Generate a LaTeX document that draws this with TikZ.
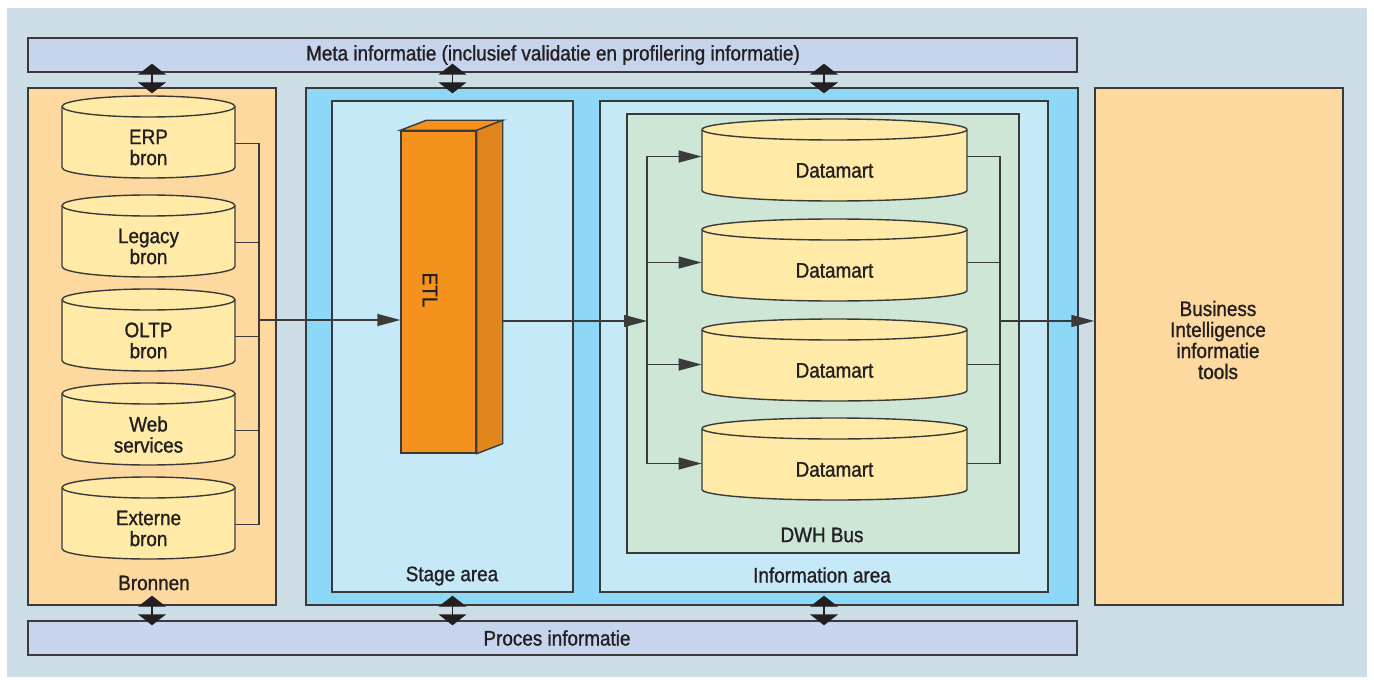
\documentclass[tikz,border=0pt]{standalone}
\usepackage{fontspec}
\setmainfont{Liberation Sans}[FakeStretch=0.9,FakeBold=1.1]
\usetikzlibrary{arrows.meta,fit}
\definecolor{panel}{HTML}{CDDDE5}
\definecolor{barblue}{HTML}{C7D4EE}
\definecolor{peach}{HTML}{FDD9A0}
\definecolor{cylyellow}{HTML}{FFEBA7}
\definecolor{deepblue}{HTML}{8ED8F7}
\definecolor{paleblue}{HTML}{C6E9F8}
\definecolor{palegreen}{HTML}{CDE6D6}
\definecolor{etlfront}{HTML}{F5921E}
\definecolor{etlside}{HTML}{E0861C}
\definecolor{linegray}{HTML}{3A3A3A}
\definecolor{inkgray}{HTML}{231F20}

% database cylinder: name, left, top, width, text (height 82)
\newcommand{\dbcyl}[5]{%
  \draw[cyl] (#2,#3+10.5) -- (#2,#3+71.5)
    arc[start angle=180,end angle=360,x radius=#4*0.25pt,y radius=5.25pt]
    -- (#2+#4,#3+10.5)
    arc[start angle=0,end angle=180,x radius=#4*0.25pt,y radius=5.25pt] -- cycle;
  \draw[cyl] (#2,#3+10.5) arc[start angle=180,end angle=360,x radius=#4*0.25pt,y radius=5.25pt];
  \node[cyltext, minimum width=#4*0.5pt] (#1) at (#2+#4/2,#3+51.5) {#5};
}

\begin{document}
\begin{tikzpicture}[x=0.5pt,y=-0.5pt,font=\fontsize{10.5}{10.5}\selectfont,text=inkgray,
  box/.style={draw=linegray,line width=0.7pt,inner sep=0pt},
  cyl/.style={draw=linegray,fill=cylyellow,line width=0.7pt},
  cyltext/.style={align=center,inner sep=0pt},
  link/.style={draw=linegray,line width=0.7pt},
  flow/.style={link,-{Triangle[length=11.5pt,width=6pt]}},
  bothway/.style={draw=inkgray,line width=0.7pt,>={Triangle[length=5.5pt,width=14pt]},<->}]
\useasboundingbox (0,0) rectangle (1374,679);
%\draw[gray,very thin] (0,0) grid[step=50] (1374,679);
\fill[panel] (7,8) rectangle (1367,677);

\node[box,fill=barblue,fit={(28,38) (1077,72)}] (meta) {};
\node[box,fill=barblue,fit={(28,621) (1077,655)}] (proces) {};
\node[box,fill=peach,fit={(28,88) (276,605)}] (bronnen) {};
\node[box,fill=deepblue,fit={(306,88) (1078,605)}] (outer) {};
\node[box,fill=paleblue,fit={(332,101) (573,592)}] (stage) {};
\node[box,fill=paleblue,fit={(600,101) (1048,592)}] (info) {};
\node[box,fill=palegreen,fit={(627,114) (1019,553)}] (dwh) {};
\node[box,fill=peach,fit={(1095,88) (1343,605)}] (bi) {};

\node (metalabel) at (553,55) {Meta informatie (inclusief validatie en profilering informatie)};
\node (proceslabel) at (557,638) {Proces informatie};
\node[align=center] (bilabel) at (1218,340) {Business\\Intelligence\\informatie\\tools};
\node (bronlabel) at (154,583) {Bronnen};
\node (stagelabel) at (452,576) {Stage area};
\node (infolabel) at (822,575) {Information area};
\node (dwhlabel) at (822,535) {DWH Bus};

\dbcyl{erp}{62}{96}{173}{ERP\\bron}
\dbcyl{legacy}{62}{195}{173}{Legacy\\bron}
\dbcyl{oltp}{62}{289}{173}{OLTP\\bron}
\dbcyl{web}{62}{383}{173}{Web\\services}
\dbcyl{ext}{62}{477}{173}{Externe\\bron}

\dbcyl{dm1}{702}{119}{265}{Datamart}
\dbcyl{dm2}{702}{219}{265}{Datamart}
\dbcyl{dm3}{702}{319}{265}{Datamart}
\dbcyl{dm4}{702}{418}{265}{Datamart}

\node[box,fill=etlfront,fit={(401,131) (476,453)}] (etl) {};
\node[rotate=-90] (etllabel) at (430,290) {ETL};
\filldraw[link,fill=etlfront] (etl.north west) -- ++(13pt,5pt) -- ([shift={(13pt,5pt)}]etl.north east) -- (etl.north east) -- cycle;
\filldraw[link,fill=etlside] (etl.north east) -- ++(13pt,5pt) -- ([shift={(13pt,5pt)}]etl.south east) -- (etl.south east) -- cycle;
\coordinate (etlback) at ([xshift=13pt]etl.east);

\coordinate (srcbus) at (259,320);
\foreach \src in {erp,legacy,oltp,web,ext}
  \draw[link] ([yshift=2pt]\src.east) -| (srcbus);
\draw[flow] (srcbus) -- (etl.west |- srcbus);

\coordinate (dmin) at (647,321);
\coordinate (dmout) at (1000,321);
\draw[flow] (etlback |- dmin) -- (dmin);
\draw[link] ([yshift=7pt]dm1.west -| dmin) -- ([yshift=3pt]dm4.west -| dmin);
\foreach \dm/\dy in {dm1/7pt,dm2/4pt,dm3/3pt,dm4/3pt} {
  \draw[flow] ([yshift=\dy]\dm.west -| dmin) -- ([yshift=\dy]\dm.west);
  \draw[link] ([yshift=\dy]\dm.east) -| (dmout);
}
\draw[flow] (dmout) -- (bi.west |- dmout);

\foreach \col in {bronnen,stage,info} {
  \draw[bothway] ([yshift=4.5pt]meta.south -| \col.north) -- ([yshift=-3pt]outer.north -| \col.north);
  \draw[bothway] ([yshift=5pt]outer.south -| \col.south) -- ([yshift=-2.5pt]proces.north -| \col.south);
}
\end{tikzpicture}
\end{document}
